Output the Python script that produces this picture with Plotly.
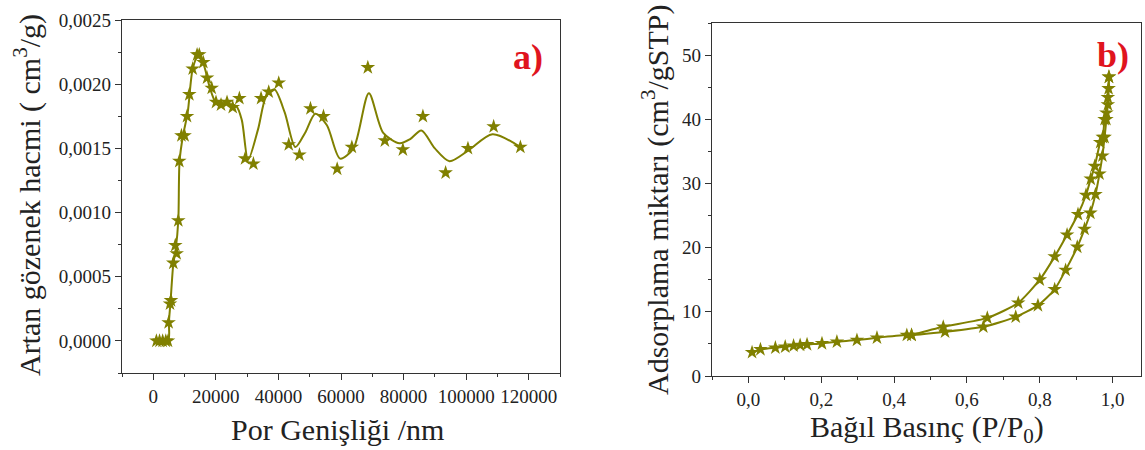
import plotly.graph_objects as go

# ---------- Panel a) : pore size distribution ----------
pore_width = [1000, 2000, 3000, 4000, 4700, 4900, 5340, 5660, 6400, 7040, 7470, 8000, 8320,
              9000, 10000, 10780, 11520, 12590, 14000, 14700, 16000, 17180, 18670, 20050,
              21650, 23570, 25390, 27520, 29330, 32000, 34450, 36900, 40100, 43300, 46720,
              50240, 54400, 58780, 63470, 68580, 74020, 79780, 86180, 93440, 100580,
              108800, 117340]
pore_volume = [0, 0, 0, 0, 0, 0.000143, 0.000289, 0.000315, 0.000607, 0.000745, 0.000680,
               0.000937, 0.00140, 0.00160, 0.00160, 0.00175, 0.00192, 0.00212, 0.00223,
               0.00223, 0.00217, 0.00205, 0.00197, 0.00186, 0.00184, 0.00186, 0.00182,
               0.00189, 0.00142, 0.00138, 0.00189, 0.00194, 0.00201, 0.00153, 0.00145,
               0.00181, 0.00175, 0.00134, 0.00151, 0.00213, 0.00156, 0.00149, 0.00175,
               0.00131, 0.00150, 0.00167, 0.00151]

# smoothed fit curve
fit_x = [1000, 4700, 5000, 5500, 6400, 7200, 8000, 8400, 9500, 11000, 12600, 14300, 16000,
         18000, 20000, 23000, 26500, 28300, 30300, 33500, 36000, 38700, 42000, 45400, 48500,
         51800, 55500, 59700, 64000, 68900, 73500, 78700, 82000, 85700, 90000, 94700,
         100500, 108400, 117300]
fit_y = [0, 0, 0.00015, 0.00030, 0.00060, 0.00072, 0.00094, 0.00140, 0.00160, 0.00178,
         0.00212, 0.00222, 0.00216, 0.00198, 0.00186, 0.00185, 0.00183, 0.00172, 0.00141,
         0.00165, 0.00190, 0.00196, 0.00178, 0.00151, 0.00162, 0.00177, 0.00168, 0.00142,
         0.00150, 0.00193, 0.00162, 0.00154, 0.00157, 0.00164, 0.00150, 0.00140, 0.00148,
         0.00161, 0.00151]

# ---------- Panel b) : N2 isotherm ----------
ads_p = [0.010, 0.033, 0.074, 0.101, 0.124, 0.142, 0.161, 0.202, 0.243, 0.298, 0.353,
         0.435, 0.448, 0.540, 0.645, 0.734, 0.795, 0.841, 0.871, 0.903, 0.923, 0.939,
         0.953, 0.964, 0.972, 0.978, 0.983, 0.987, 0.989, 0.990]
ads_v = [3.68, 4.14, 4.40, 4.55, 4.71, 4.81, 4.91, 5.07, 5.33, 5.59, 5.95, 6.37, 6.37,
         6.88, 7.66, 9.21, 11.0, 13.5, 16.5, 20.1, 22.9, 25.4, 28.3, 31.5, 34.3, 37.2,
         40.0, 42.3, 44.8, 46.6]
des_p = [0.990, 0.987, 0.983, 0.978, 0.973, 0.966, 0.951, 0.940, 0.927, 0.905, 0.875,
         0.841, 0.800, 0.741, 0.656, 0.535, 0.448]
des_v = [46.6, 43.4, 41.0, 40.0, 37.2, 36.4, 32.7, 30.7, 28.2, 25.2, 22.0, 18.6, 15.0,
         11.4, 9.05, 7.66, 6.37]

OLIVE = "#808000"
FONT = "Liberation Serif"

fig = go.Figure()
fig.add_trace(go.Scatter(x=fit_x, y=fit_y, mode="lines", line=dict(color=OLIVE, width=2, shape="spline", smoothing=0.8),
                         xaxis="x", yaxis="y", showlegend=False, hoverinfo="skip"))
fig.add_trace(go.Scatter(x=pore_width, y=pore_volume, mode="markers",
                         marker=dict(symbol="star", size=11, color=OLIVE, line=dict(width=0)),
                         xaxis="x", yaxis="y", showlegend=False))
fig.add_trace(go.Scatter(x=ads_p, y=ads_v, mode="lines+markers",
                         line=dict(color=OLIVE, width=2, shape="spline", smoothing=0.6),
                         marker=dict(symbol="star", size=11, color=OLIVE, line=dict(width=0)),
                         xaxis="x2", yaxis="y2", showlegend=False))
fig.add_trace(go.Scatter(x=des_p, y=des_v, mode="lines+markers",
                         line=dict(color=OLIVE, width=2, shape="spline", smoothing=0.6),
                         marker=dict(symbol="star", size=11, color=OLIVE, line=dict(width=0)),
                         xaxis="x2", yaxis="y2", showlegend=False))

W, H = 1145, 450
def px(x): return x / W
def py(y): return 1 - y / H

axis_common = dict(showline=True, linecolor="#333", linewidth=1.2, mirror=True,
                   ticks="outside", ticklen=6, tickwidth=1.2, tickcolor="#333",
                   showgrid=False, zeroline=False, automargin=False,
                   tickfont=dict(family=FONT, size=19, color="#222"))

fig.update_layout(
    width=W, height=H,
    margin=dict(l=0, r=0, t=0, b=0, autoexpand=False),
    paper_bgcolor="white", plot_bgcolor="white",
    separators=",.",
    showlegend=False,
    xaxis=dict(domain=[px(122), px(560)], range=[-10000, 130000], tick0=0, dtick=20000,
               tickformat="d", anchor="y",
               minor=dict(ticks="outside", ticklen=3, dtick=10000, tick0=0, tickcolor="#333"),
               **axis_common),
    yaxis=dict(domain=[py(373), py(20)], range=[-0.00025, 0.0025], tick0=0, dtick=0.0005,
               tickformat=".4f", anchor="x",
               minor=dict(ticks="outside", ticklen=3, dtick=0.00025, tick0=0, tickcolor="#333"),
               **axis_common),
    xaxis2=dict(domain=[px(712), px(1141)], range=[-0.1, 1.078], tick0=0, dtick=0.2,
                tickformat=".1f", anchor="y2",
                minor=dict(ticks="outside", ticklen=3, dtick=0.1, tick0=0, tickcolor="#333"),
                **axis_common),
    yaxis2=dict(domain=[py(376), py(23)], range=[0, 55], tick0=0, dtick=10,
                tickformat="d", anchor="x2",
                minor=dict(ticks="outside", ticklen=3, dtick=5, tick0=0, tickcolor="#333"),
                **axis_common),
)

title_font = dict(family=FONT, size=30, color="#222")
ann = dict(xref="paper", yref="paper", showarrow=False, xanchor="center", yanchor="middle")
fig.add_annotation(text="Por Genişliği /nm", x=px(337), y=py(429), font=title_font, **ann)
fig.add_annotation(text="Bağıl Basınç (P/P<sub>0</sub>)", x=px(927), y=py(429), font=title_font, **ann)
fig.add_annotation(text="Artan gözenek hacmi ( cm<sup>3</sup>/g)", x=px(27), y=py(195),
                   textangle=-90, font=title_font, **ann)
fig.add_annotation(text="Adsorplama miktarı (cm<sup>3</sup>/gSTP)", x=px(655), y=py(200),
                   textangle=-90, font=title_font, **ann)
fig.add_annotation(text="<b>a)</b>", x=px(528), y=py(57),
                   font=dict(family=FONT, size=36, color="#e0141e"), **ann)
fig.add_annotation(text="<b>b)</b>", x=px(1113), y=py(55),
                   font=dict(family=FONT, size=36, color="#e0141e"), **ann)

fig.write_html("out.html", config={"displayModeBar": False},
               post_script="document.body.style.margin='0px';")
